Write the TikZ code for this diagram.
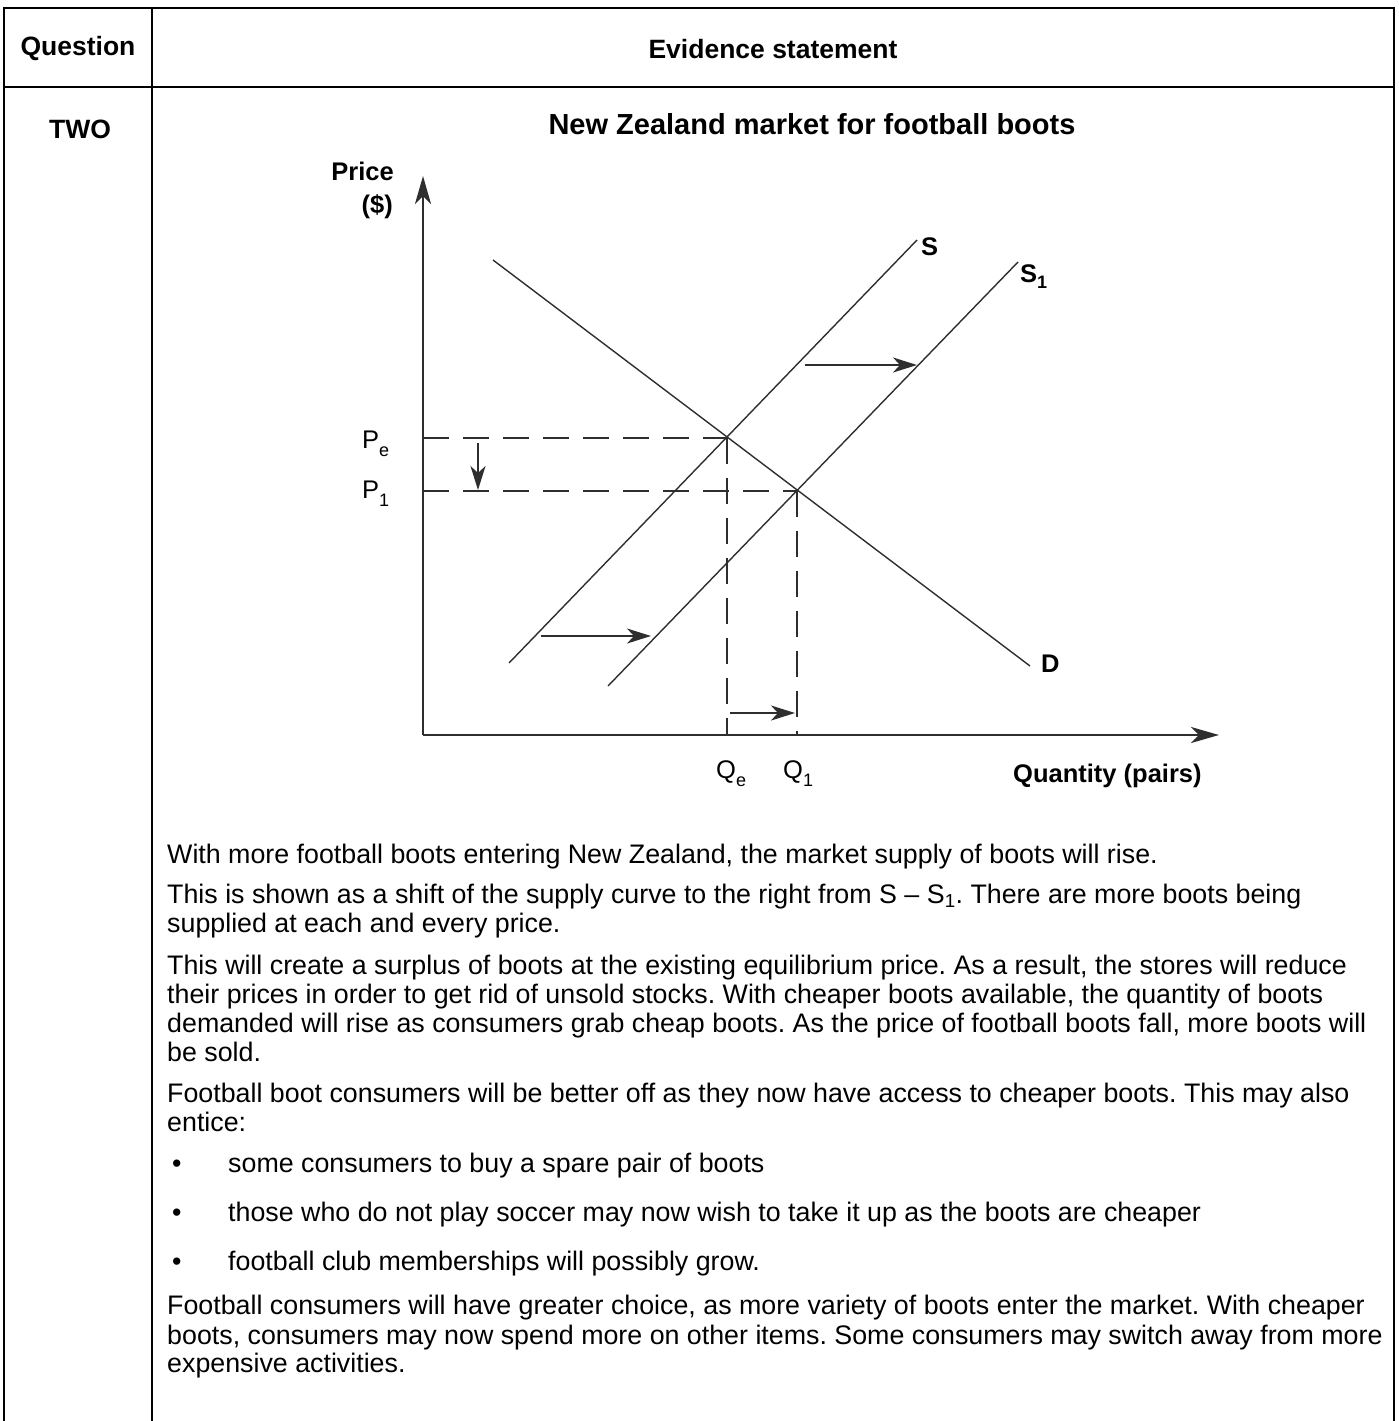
\documentclass[tikz,border=0pt]{standalone}
\usepackage{fontspec}
\setmainfont{Liberation Sans}
\usetikzlibrary{arrows.meta}
\definecolor{ink}{HTML}{2E2E2E}
\newcommand{\lowsub}[2]{\raisebox{-#1}{\fontsize{18}{18}\selectfont #2}}
\frenchspacing
\begin{document}
\frenchspacing
\begin{tikzpicture}[x=1pt,y=-1pt,
  tbl/.style={line width=1.8pt,black},
  axis/.style={line width=2.8pt,ink,-{Stealth[length=28pt,width=16pt,inset=8pt]}},
  curve/.style={line width=1.4pt,ink},
  guide/.style={line width=2.6pt,ink,dash pattern=on 26pt off 14pt},
  shiftarrow/.style={line width=2.4pt,ink,-{Stealth[length=24pt,width=15pt,inset=7pt]}},
  hdr/.style={font=\fontsize{26.5}{30}\selectfont\bfseries,inner sep=0},
  lbl/.style={font=\fontsize{25.5}{30}\selectfont\bfseries,inner sep=0},
  reg/.style={font=\fontsize{25.5}{30}\selectfont,inner sep=0},
  body/.style={font=\fontsize{26.8}{29}\selectfont,inner sep=0,anchor=base west}]
\useasboundingbox (0,0) rectangle (1399,1421);
% table frame
\draw[tbl] (4,1421) -- (4,8) -- (1394,8) -- (1394,1421);
\draw[tbl] (152,8) -- (152,1421);
\draw[tbl] (4,87) -- (1394,87);
\node[hdr] (hq) at (78,49) {Question};
\node[hdr] (he) at (773,49) {Evidence statement};
\node[hdr] (two) at (80,129) {TWO};
% title
\node[font=\fontsize{29}{33}\selectfont\bfseries,inner sep=0] (title) at (812,124) {New Zealand market for football boots};
% coordinates
\coordinate (O) at (423,735);
\coordinate (ytip) at (423,176);
\coordinate (xtip) at (1219,735);
\coordinate (Sa) at (509,663);
\coordinate (Sb) at (917,240);
\coordinate (Ta) at (608,686);
\coordinate (Tb) at (1018,262);
\coordinate (Da) at (493,260);
\coordinate (Db) at (1030,666);
\coordinate (E) at (727,438);
\coordinate (F) at (797,491);
\coordinate (Pe) at (423,438);
\coordinate (P1) at (423,491);
\coordinate (Qe) at (727,735);
\coordinate (Q1) at (797,735);
% guides
\draw[guide] (Pe) -- (E);
\draw[guide] (E) -- (Qe);
\draw[guide] (P1) -- (F);
\draw[guide] (F) -- (Q1);
% curves
\draw[curve] (Sa) -- (Sb);
\draw[curve] (Ta) -- (Tb);
\draw[curve] (Da) -- (Db);
% axes
\draw[axis] (O) -- (ytip);
\draw[axis] (O) -- (xtip);
% shift arrows
\coordinate (a1s) at (805,365); \coordinate (a1e) at (917,365);
\coordinate (a2s) at (541,636); \coordinate (a2e) at (651,636);
\coordinate (a3s) at (730,713); \coordinate (a3e) at (795,713);
\coordinate (a4s) at (478,443); \coordinate (a4e) at (478,490);
\draw[shiftarrow] (a1s) -- (a1e);
\draw[shiftarrow] (a2s) -- (a2e);
\draw[shiftarrow] (a3s) -- (a3e);
\draw[shiftarrow] (a4s) -- (a4e);
% labels
\node[lbl,anchor=east] (price) at (394,171) {Price};
\node[lbl,anchor=east] (dollar) at (393,207) {(\$)};
\node[lbl,anchor=base west] (lS) at (921,255) {S};
\node[lbl,anchor=base west] (lS1) at (1020,282) {S\lowsub{6pt}{\bfseries 1}};
\node[lbl,anchor=base west] (lD) at (1041,672) {D};
\node[reg,anchor=base west] (lPe) at (362,448) {P\lowsub{8pt}{e}};
\node[reg,anchor=base west] (lP1) at (362,498) {P\lowsub{8pt}{1}};
\node[reg,anchor=base west] (lQe) at (716,778) {Q\lowsub{8pt}{e}};
\node[reg,anchor=base west] (lQ1) at (783,778) {Q\lowsub{8pt}{1}};
\node[lbl,anchor=base west] (lQ) at (1013,782) {Quantity (pairs)};
% body text
\node[body] (t1) at (167,863) {With more football boots entering New Zealand, the market supply of boots will rise.};
\node[body] (t2) at (167,903) {This is shown as a shift of the supply curve to the right from S – S\textsubscript{1}. There are more boots being};
\node[body] (t3) at (167,932) {supplied at each and every price.};
\node[body] (t4) at (167,974) {This will create a surplus of boots at the existing equilibrium price. As a result, the stores will reduce};
\node[body] (t5) at (167,1003) {their prices in order to get rid of unsold stocks. With cheaper boots available, the quantity of boots};
\node[body] (t6) at (167,1032) {demanded will rise as consumers grab cheap boots. As the price of football boots fall, more boots will};
\node[body] (t7) at (167,1061) {be sold.};
\node[body] (t8) at (167,1102) {Football boot consumers will be better off as they now have access to cheaper boots. This may also};
\node[body] (t9) at (167,1131) {entice:};
\node[body] (b1d) at (172,1172) {•};
\node[body] (b1) at (228,1172) {some consumers to buy a spare pair of boots};
\node[body] (b2d) at (172,1221) {•};
\node[body] (b2) at (228,1221) {those who do not play soccer may now wish to take it up as the boots are cheaper};
\node[body] (b3d) at (172,1270) {•};
\node[body] (b3) at (228,1270) {football club memberships will possibly grow.};
\node[body] (t10) at (167,1314) {Football consumers will have greater choice, as more variety of boots enter the market. With cheaper};
\node[body] (t11) at (167,1344) {boots, consumers may now spend more on other items. Some consumers may switch away from more};
\node[body] (t12) at (167,1372) {expensive activities.};
\end{tikzpicture}
\end{document}
